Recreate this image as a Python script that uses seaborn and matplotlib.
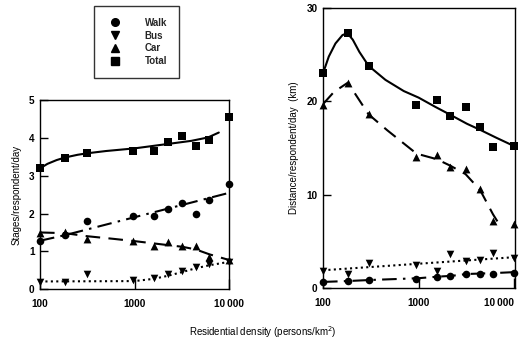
import matplotlib
matplotlib.use("Agg")
import matplotlib.pyplot as plt
from matplotlib.lines import Line2D
import seaborn as sns
import pandas as pd

# ---------------- data ----------------
left_density = [100, 185, 316, 960, 1600, 2250, 3200, 4450, 6200, 10000]
stages_walk = [1.26, 1.43, 1.80, 1.94, 1.94, 2.12, 2.29, 1.99, 2.36, 2.79]
stages_bus = [0.19, 0.19, 0.39, 0.24, 0.28, 0.39, 0.48, 0.58, 0.65, 0.72]
stages_car = [1.49, 1.52, 1.32, 1.27, 1.15, 1.25, 1.15, 1.14, 0.86, 0.77]
stages_total = [3.20, 3.47, 3.60, 3.66, 3.66, 3.91, 4.06, 3.78, 3.95, 4.55]

right_density = [100, 182, 300, 930, 1550, 2150, 3100, 4400, 6050, 10000]
dist_walk = [0.65, 0.75, 0.86, 1.00, 1.22, 1.29, 1.54, 1.54, 1.54, 1.65]
dist_bus = [1.83, 1.54, 2.70, 2.47, 1.83, 3.60, 2.90, 2.97, 3.73, 3.26]
dist_car = [19.6, 22.0, 18.6, 14.0, 14.2, 13.0, 12.8, 10.6, 7.2, 6.85]
dist_total = [23.0, 27.3, 23.8, 19.6, 20.1, 18.4, 19.4, 17.2, 15.1, 15.2]

# fitted (hand-drawn) curves
fit_s_total_x = [100, 120, 150, 185, 250, 316, 500, 1000, 2000, 4000, 6000, 7800]
fit_s_total_y = [3.20, 3.32, 3.42, 3.49, 3.56, 3.60, 3.66, 3.73, 3.83, 3.93, 4.02, 4.15]
fit_s_walk_x = [100, 185, 10000]
fit_s_walk_y = [1.28, 1.43, 2.55]
fit_s_car_x = [100, 185, 316, 600, 1000, 2000, 3200, 4450, 6200, 10000]
fit_s_car_y = [1.50, 1.48, 1.40, 1.33, 1.27, 1.18, 1.12, 1.05, 0.92, 0.77]
fit_s_bus_x = [100, 1000, 1600, 2250, 3200, 4450, 6200, 10000]
fit_s_bus_y = [0.20, 0.21, 0.27, 0.35, 0.45, 0.55, 0.63, 0.72]

fit_d_total_x = [100, 115, 135, 160, 180, 205, 240, 300, 450, 700, 1000, 1500,
                 2200, 3200, 4500, 6500, 10000]
fit_d_total_y = [23.0, 24.8, 26.2, 27.1, 27.3, 26.6, 25.3, 23.8, 22.3, 21.1, 20.4,
                 19.4, 18.5, 17.6, 16.9, 16.1, 15.2]
fit_d_car_x = [100, 130, 182, 300, 470, 950, 1550, 2150, 3100, 4400, 6000, 7300]
fit_d_car_y = [19.7, 21.0, 22.0, 18.6, 16.9, 14.4, 13.8, 13.1, 12.2, 10.5, 7.9, 6.5]
fit_d_bus_x = [100, 10000]
fit_d_bus_y = [1.9, 3.3]
fit_d_walk_x = [100, 185, 316, 1000, 1600, 2200, 3200, 4450, 6200, 10000]
fit_d_walk_y = [0.65, 0.75, 0.86, 1.05, 1.22, 1.30, 1.50, 1.55, 1.60, 1.70]

modes = ["Walk", "Bus", "Car", "Total"]
markers = {"Walk": "o", "Bus": "v", "Car": "^", "Total": "s"}
msize = {"Walk": 30, "Bus": 30, "Car": 32, "Total": 26}
styles = {"Walk": (0, (7, 3, 1.2, 3)), "Bus": (0, (1, 1.6)),
          "Car": (0, (7, 4)), "Total": "-"}
xticks = [100, 1000, 10000]
xticklabels = ["100", "1000", "10\u2009000"]

# ---------------- plot ----------------
sns.set_theme(style="ticks")
plt.rcParams["font.family"] = ["Liberation Sans", "DejaVu Sans"]

fig = plt.figure(figsize=(5.26, 3.40), dpi=100)
axL = fig.add_axes([40 / 526, 1 - 289 / 340, 189 / 526, 188.5 / 340])
axR = fig.add_axes([323 / 526, 1 - 288 / 340, 192 / 526, 280 / 340])


def draw(ax, dens, pts, fits):
    for m in modes:
        fx, fy = fits[m]
        sns.lineplot(x=fx, y=fy, ax=ax, color="black", linewidth=1.5,
                     linestyle=styles[m], sort=False, estimator=None)
        sns.scatterplot(x=dens, y=pts[m], ax=ax, color="black",
                        marker=markers[m], s=msize[m], linewidth=0, zorder=5)
    for c in ax.collections:
        c.set_clip_on(False)


draw(axL, left_density,
     {"Walk": stages_walk, "Bus": stages_bus, "Car": stages_car, "Total": stages_total},
     {"Walk": (fit_s_walk_x, fit_s_walk_y), "Bus": (fit_s_bus_x, fit_s_bus_y),
      "Car": (fit_s_car_x, fit_s_car_y), "Total": (fit_s_total_x, fit_s_total_y)})
draw(axR, right_density,
     {"Walk": dist_walk, "Bus": dist_bus, "Car": dist_car, "Total": dist_total},
     {"Walk": (fit_d_walk_x, fit_d_walk_y), "Bus": (fit_d_bus_x, fit_d_bus_y),
      "Car": (fit_d_car_x, fit_d_car_y), "Total": (fit_d_total_x, fit_d_total_y)})

for ax, ylim, yt, ylab, xmax in [
        (axL, (0, 5), [0, 1, 2, 3, 4, 5], "Stages/respondent/day", 10000),
        (axR, (0, 30), [0, 10, 20, 30], "Distance/respondent/day  (km)", 10200)]:
    ax.set_xscale("log")
    ax.set_xlim(100, xmax)
    ax.set_ylim(*ylim)
    ax.set_xticks(xticks)
    ax.set_xticklabels(xticklabels)
    ax.minorticks_off()
    ax.set_yticks(yt)
    ax.set_yticklabels([str(v) for v in yt])
    ax.tick_params(axis="x", direction="in", length=7, width=1.0, pad=7,
                   labelsize=7.2, colors="black")
    ax.tick_params(axis="y", direction="in", length=6, width=1.0, pad=4,
                   labelsize=7.2, colors="black")
    for lab in ax.get_xticklabels() + ax.get_yticklabels():
        lab.set_fontweight("bold")
    ax.set_ylabel(ylab, fontsize=7, labelpad=5, color="black")
    ax.set_xlabel("")
    for sp in ax.spines.values():
        sp.set_visible(True)
        sp.set_color("black")
        sp.set_linewidth(1.0)
    ax.grid(False)

# nudge the last x tick label so it stays inside the figure
axR.get_xticklabels()[-1].set_horizontalalignment("right")
axR.get_xticklabels()[-1].set_x(10200)

fig.text(263 / 526, 1 - 332 / 340, "Residential density (persons/km$^2$)",
         ha="center", va="center", fontsize=7, color="black")

handles = [Line2D([], [], linestyle="none", marker=markers[m], color="black",
                  markersize=5.5) for m in modes]
leg = fig.legend(handles, modes, loc="upper left",
                 bbox_to_anchor=(94 / 526, 1 - 6 / 340), borderaxespad=0,
                 frameon=True, fancybox=False, edgecolor="black",
                 handlelength=2.0, handletextpad=2.0, borderpad=1.2,
                 labelspacing=0.3, prop={"size": 7, "weight": "bold"})
leg.get_frame().set_linewidth(1.0)

fig.savefig("out.png", dpi=100, facecolor="white")
